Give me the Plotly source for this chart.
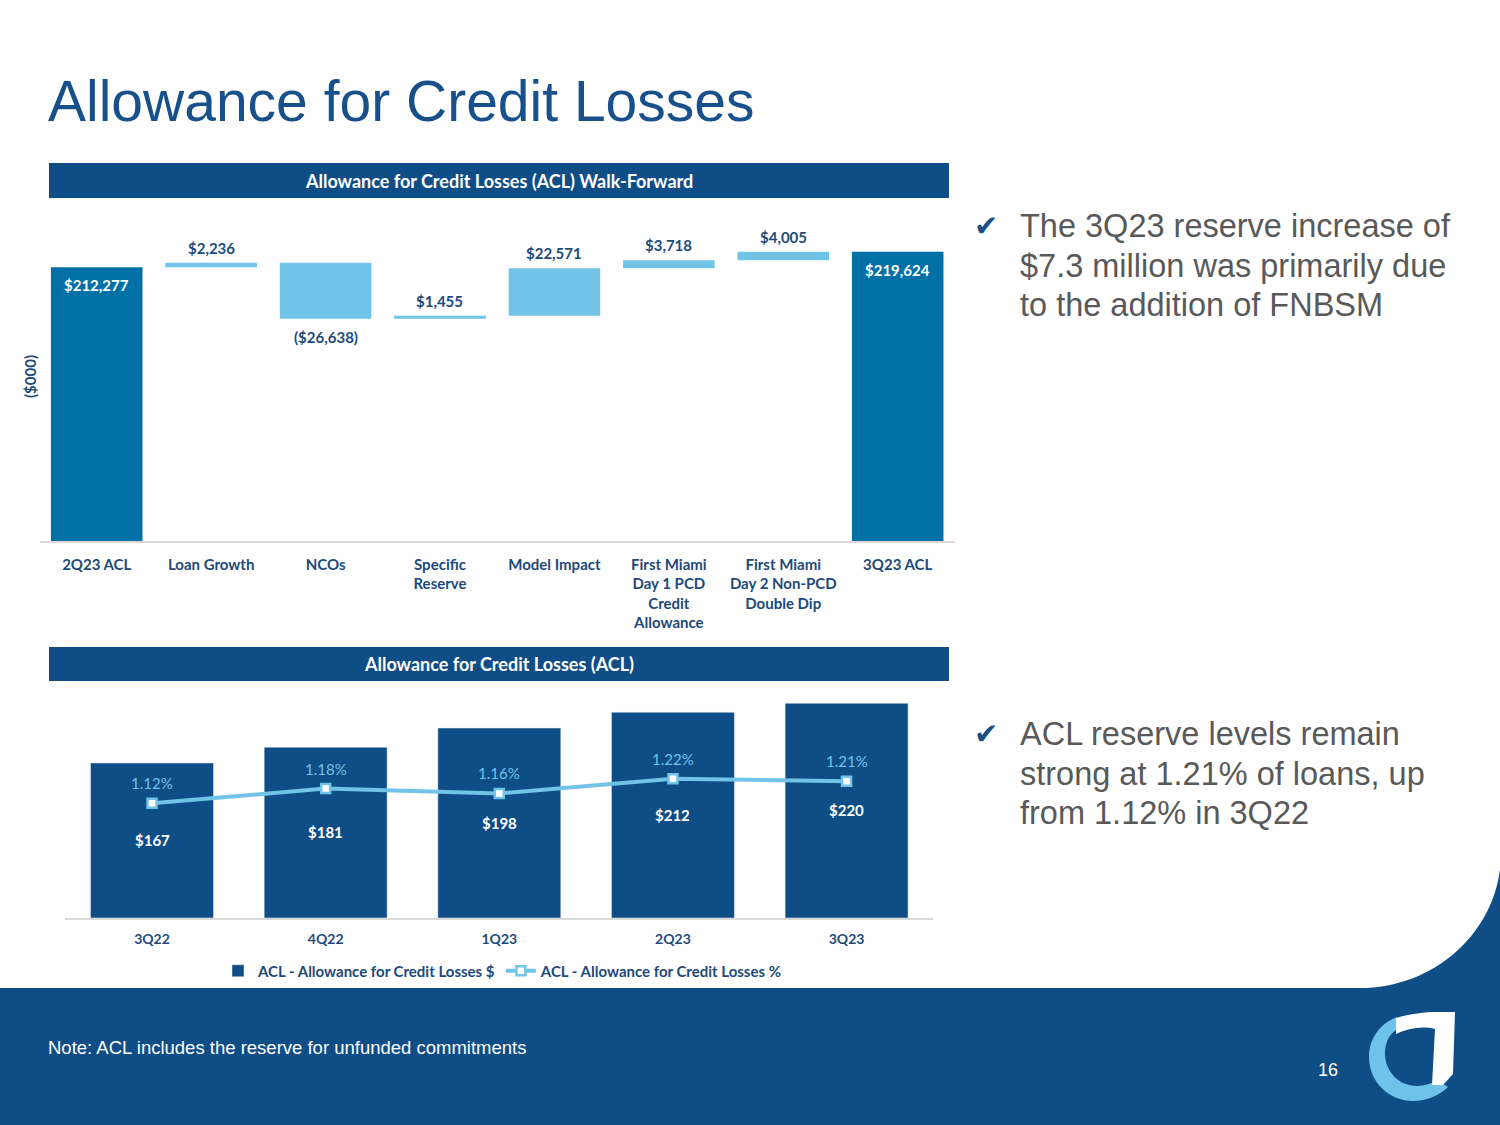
import plotly.graph_objects as go

# ---------------- data ----------------
wf_categories = ["2Q23 ACL", "Loan Growth", "NCOs", "Specific<br>Reserve", "Model Impact",
                 "First Miami<br>Day 1 PCD<br>Credit<br>Allowance",
                 "First Miami<br>Day 2 Non-PCD<br>Double Dip", "3Q23 ACL"]
wf_values = [212277, 2236, -26638, 1455, 22571, 3718, 4005, 219624]
wf_measures = ["absolute", "relative", "relative", "relative", "relative", "relative", "relative", "total"]

q_categories = ["3Q22", "4Q22", "1Q23", "2Q23", "3Q23"]
acl_dollars = [167, 181, 198, 212, 220]
acl_pct = [1.12, 1.18, 1.16, 1.22, 1.21]

bullet1 = ["The 3Q23 reserve increase of", "$7.3 million was primarily due", "to the addition of FNBSM"]
bullet2 = ["ACL reserve levels remain", "strong at 1.21% of loans, up", "from 1.12% in 3Q22"]

# ---------------- styles ----------------
W, H = 1500, 1125
NAVY = "#0F4D86"
TOTAL = "#0071A7"
LIGHT = "#71C3E8"
DARK_TXT = "#1D4A7A"
GRAY = "#595959"
LBL_FONT = "Lato"
WF_RANGE = [82600, 244200]
Q_RANGE = [29.6, 231.8]
PCT_RANGE = [0.655, 1.5806]


def px(x):
    return x / W


def py(y):
    return 1 - y / H


def path(cmds):
    out = []
    for c, pts in cmds:
        step = 3 if c == "C" else 1
        for i in range(0, len(pts), step):
            grp = pts[i:i + step]
            out.append(c + " " + " ".join(f"{px(x):.5f},{py(y):.5f}" for x, y in grp))
    return " ".join(out) + " Z"


def money(v):
    s = f"${abs(v):,}"
    return f"({s})" if v < 0 else s


fig = go.Figure()

fig.add_trace(go.Waterfall(
    x=wf_categories, y=wf_values, measure=wf_measures,
    increasing=dict(marker=dict(color=LIGHT)),
    decreasing=dict(marker=dict(color=LIGHT)),
    totals=dict(marker=dict(color=TOTAL)),
    connector=dict(visible=False),
    xaxis="x", yaxis="y", showlegend=False, hoverinfo="x+y",
))

fig.add_trace(go.Bar(
    x=q_categories, y=acl_dollars, name="ACL - Allowance for Credit Losses $",
    marker=dict(color=NAVY), xaxis="x2", yaxis="y2",
))

fig.add_trace(go.Scatter(
    x=q_categories, y=acl_pct, name="ACL - Allowance for Credit Losses %",
    mode="lines+markers",
    line=dict(color=LIGHT, width=4),
    marker=dict(symbol="square", size=9, color="white", line=dict(color=LIGHT, width=2.5)),
    xaxis="x2", yaxis="y3",
))

annotations = []

# waterfall labels, placed from the running totals
running = 0
for c, v, m in zip(wf_categories, wf_values, wf_measures):
    lab_font = dict(family=LBL_FONT, size=15, color=DARK_TXT, weight="bold")
    if m == "relative":
        end = running + v
        running = end
        if v >= 0:
            annotations.append(dict(x=c, y=end, xref="x", yref="y", yanchor="bottom", yshift=4,
                                    text=money(v), showarrow=False, font=lab_font))
        else:
            annotations.append(dict(x=c, y=end, xref="x", yref="y", yanchor="top", yshift=-7,
                                    text=money(v), showarrow=False, font=lab_font))
    else:
        running = v
        annotations.append(dict(x=c, y=v, xref="x", yref="y", yanchor="top", yshift=-7,
                                text=money(v), showarrow=False,
                                font=dict(family=LBL_FONT, size=15, color="white", weight="bold")))

# lower chart labels
for c, v in zip(q_categories, acl_dollars):
    annotations.append(dict(x=c, y=(Q_RANGE[0] + v) / 2, xref="x2", yref="y2", text=f"${v}",
                            showarrow=False, xanchor="center", yanchor="middle",
                            font=dict(family=LBL_FONT, size=15, color="white", weight="bold")))
for c, v in zip(q_categories, acl_pct):
    annotations.append(dict(x=c, y=v, xref="x2", yref="y3", text=f"{v:.2f}%", showarrow=False,
                            xanchor="center", yanchor="middle", yshift=20,
                            font=dict(family=LBL_FONT, size=15, color=LIGHT)))


def page_text(x, y, text, font, xanchor="center", **kw):
    return dict(x=px(x), y=py(y), xref="paper", yref="paper", xanchor=xanchor, yanchor="middle",
                text=text, showarrow=False, font=font, **kw)


annotations += [
    page_text(46, 101, "Allowance for Credit Losses",
              dict(family="Liberation Sans", size=57, color="#17508A"), xanchor="left"),
    page_text(499, 181, "Allowance for Credit Losses (ACL) Walk-Forward",
              dict(family=LBL_FONT, size=18, color="white", weight="bold")),
    page_text(499, 664, "Allowance for Credit Losses (ACL)",
              dict(family=LBL_FONT, size=18, color="white", weight="bold")),
    page_text(30, 377, "($000)", dict(family=LBL_FONT, size=15, color=DARK_TXT, weight="bold"),
              textangle=-90),
    page_text(986, 226, "✔", dict(family="DejaVu Sans", size=29, color="#1A4F85")),
    page_text(986, 734, "✔", dict(family="DejaVu Sans", size=29, color="#1A4F85")),
    page_text(46, 1047, "Note: ACL includes the reserve for unfunded commitments",
              dict(family="Liberation Sans", size=18.5, color="white"), xanchor="left"),
    page_text(1328, 1070, "16", dict(family="Liberation Sans", size=18, color="white")),
]
for i, line in enumerate(bullet1):
    annotations.append(page_text(1018, 226 + 39.5 * i, line,
                                 dict(family="Liberation Sans", size=32.5, color=GRAY), xanchor="left"))
for i, line in enumerate(bullet2):
    annotations.append(page_text(1018, 734 + 39.5 * i, line,
                                 dict(family="Liberation Sans", size=32.5, color=GRAY), xanchor="left"))

shapes = [
    # header bars
    dict(type="rect", xref="paper", yref="paper", x0=px(49), x1=px(949), y0=py(198), y1=py(163),
         fillcolor=NAVY, line=dict(width=0)),
    dict(type="rect", xref="paper", yref="paper", x0=px(49), x1=px(949), y0=py(681), y1=py(647),
         fillcolor=NAVY, line=dict(width=0)),
    # bottom band
    dict(type="rect", xref="paper", yref="paper", x0=0, x1=1, y0=0, y1=py(988),
         fillcolor=NAVY, line=dict(width=0)),
    dict(type="rect", xref="paper", yref="paper", x0=px(1358), x1=1, y0=py(990), y1=py(850),
         fillcolor=NAVY, line=dict(width=0)),
    # white rounded corner
    dict(type="path", xref="paper", yref="paper", fillcolor="white", line=dict(width=0),
         path=path([("M", [(1356, 849)]), ("L", [(1501, 849), (1501, 853)]),
                    ("C", [(1501, 928), (1437, 988), (1360, 988)]),
                    ("L", [(1356, 988)])])),
    # logo crescent
    dict(type="path", xref="paper", yref="paper", fillcolor="#6EC3EA", line=dict(width=0),
         path=path([("M", [(1397, 1017)]),
                    ("C", [(1381, 1023), (1369, 1038), (1369, 1057)]),
                    ("C", [(1369, 1082), (1389, 1101), (1413, 1101)]),
                    ("C", [(1427, 1101), (1440, 1095), (1448, 1087)]),
                    ("L", [(1437, 1080)]),
                    ("C", [(1431, 1084), (1424, 1086), (1417, 1086)]),
                    ("C", [(1399, 1086), (1385, 1072), (1385, 1053)]),
                    ("C", [(1385, 1043), (1389, 1035), (1396, 1030)])])),
    # logo white J
    dict(type="path", xref="paper", yref="paper", fillcolor="white", line=dict(width=0),
         path=path([("M", [(1396, 1018)]),
                    ("C", [(1410, 1014), (1425, 1012), (1437, 1012)]),
                    ("L", [(1455, 1012), (1453, 1074), (1443, 1085), (1432, 1085), (1435, 1029)]),
                    ("C", [(1423, 1026), (1408, 1028), (1396, 1034)])])),
]

fig.update_layout(
    width=W, height=H, margin=dict(l=0, r=0, t=0, b=0),
    paper_bgcolor="white", plot_bgcolor="rgba(0,0,0,0)",
    font=dict(family=LBL_FONT, color=DARK_TXT),
    bargap=0.19,
    xaxis=dict(domain=[px(39.5), px(954.9)], anchor="y", showgrid=False, zeroline=False,
               showline=True, linecolor="#D9D9D9", linewidth=1.5, ticks="",
               ticklabelstandoff=9,
               tickfont=dict(family=LBL_FONT, size=15, color=DARK_TXT, weight="bold")),
    yaxis=dict(domain=[py(541), py(200)], anchor="x", range=WF_RANGE, visible=False,
               showgrid=False, zeroline=False),
    xaxis2=dict(domain=[px(65.2), px(933.4)], anchor="y2", showgrid=False, zeroline=False,
                showline=True, linecolor="#D9D9D9", linewidth=1.5, ticks="",
                ticklabelstandoff=8,
                tickfont=dict(family=LBL_FONT, size=14, color=DARK_TXT, weight="bold")),
    yaxis2=dict(domain=[py(917.7), py(690)], anchor="x2", range=Q_RANGE, visible=False,
                showgrid=False, zeroline=False),
    yaxis3=dict(overlaying="y2", anchor="x2", side="right", range=PCT_RANGE, visible=False,
                showgrid=False, zeroline=False),
    legend=dict(orientation="h", x=px(503), xanchor="center", y=py(971), yanchor="middle",
                font=dict(family=LBL_FONT, size=15, color=DARK_TXT, weight="bold"),
                bgcolor="rgba(0,0,0,0)", itemwidth=30, tracegroupgap=0),
    shapes=shapes, annotations=annotations,
)
fig.update_traces(width=0.708, selector=dict(type="bar"))

fig.write_html("out.html", config={"displayModeBar": False},
               post_script="document.body.style.margin='0';")
